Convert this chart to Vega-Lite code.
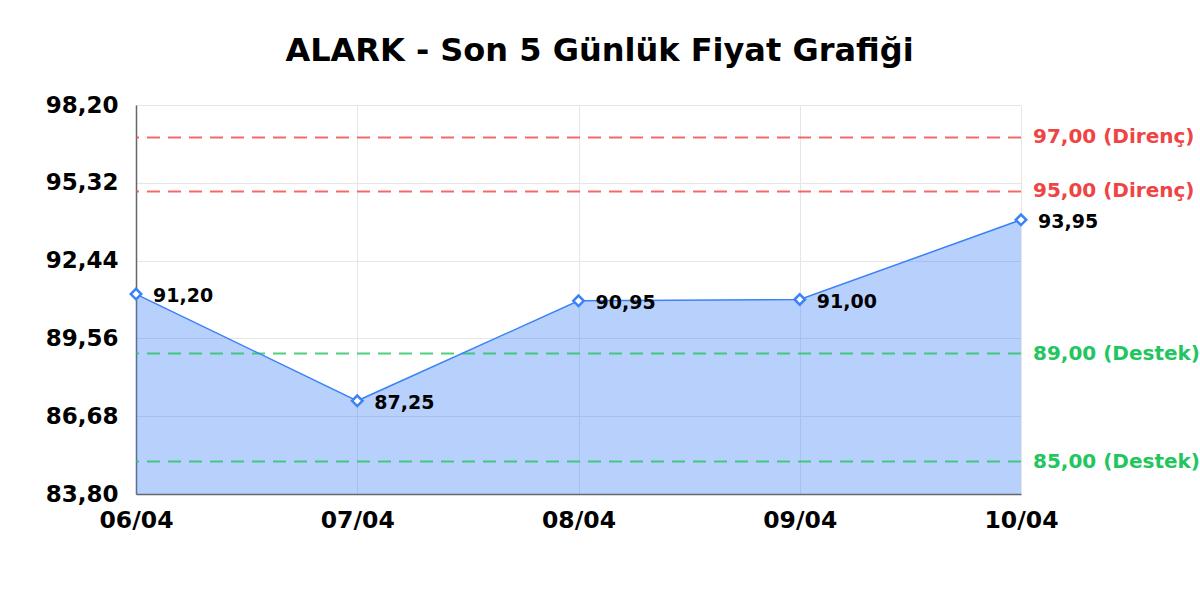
{
  "$schema": "https://vega.github.io/schema/vega-lite/v6.json",
  "autosize": "none",
  "width": 885,
  "height": 389,
  "padding": {"left": 136, "top": 105, "right": 179, "bottom": 106},
  "background": "white",
  "config": {
    "locale": {"number": {"decimal": ",", "thousands": ".", "grouping": [3], "currency": ["", " TL"]}},
    "font": "DejaVu Sans",
    "view": {"stroke": null}
  },
  "title": {
    "text": "ALARK - Son 5 Günlük Fiyat Grafiği",
    "fontSize": 32,
    "fontWeight": "bold",
    "font": "DejaVu Sans",
    "color": "black",
    "anchor": "middle",
    "dx": 21,
    "offset": 26
  },
  "datasets": {
    "prices": [
      {"date": "06/04", "close": 91.20},
      {"date": "07/04", "close": 87.25},
      {"date": "08/04", "close": 90.95},
      {"date": "09/04", "close": 91.00},
      {"date": "10/04", "close": 93.95}
    ],
    "levels": [
      {"level": 97.00, "kind": "Direnç", "label": "97,00 (Direnç)"},
      {"level": 95.00, "kind": "Direnç", "label": "95,00 (Direnç)"},
      {"level": 89.00, "kind": "Destek", "label": "89,00 (Destek)"},
      {"level": 85.00, "kind": "Destek", "label": "85,00 (Destek)"}
    ]
  },
  "layer": [
    {
      "data": {"name": "prices"},
      "mark": {"type": "area", "color": "#3b82f6", "opacity": 0.37},
      "encoding": {
        "x": {
          "field": "date",
          "type": "ordinal",
          "sort": null,
          "scale": {"type": "point", "padding": 0},
          "axis": {
            "title": null,
            "labelAngle": 0,
            "labelFontSize": 23.5,
            "labelFontWeight": "bold",
            "labelColor": "black",
            "labelPadding": 14,
            "ticks": false,
            "grid": true,
            "gridColor": "#e6e6e6",
            "domainColor": "#666666",
            "domainWidth": 1.5
          }
        },
        "y": {
          "field": "close",
          "type": "quantitative",
          "scale": {"domain": [83.8, 98.2], "nice": false, "zero": false},
          "axis": {
            "title": null,
            "values": [83.8, 86.68, 89.56, 92.44, 95.32, 98.2],
            "format": ".2f",
            "labelFontSize": 23,
            "labelFontWeight": "bold",
            "labelColor": "black",
            "labelPadding": 18,
            "ticks": false,
            "grid": true,
            "gridColor": "#e6e6e6",
            "domainColor": "#666666",
            "domainWidth": 1.5
          }
        },
        "y2": {"datum": 83.8}
      }
    },
    {
      "data": {"name": "levels"},
      "mark": {"type": "rule", "strokeDash": [13, 8], "strokeWidth": 2, "opacity": 0.8},
      "encoding": {
        "y": {"field": "level", "type": "quantitative"},
        "color": {
          "field": "kind",
          "type": "nominal",
          "scale": {"domain": ["Direnç", "Destek"], "range": ["#ef4444", "#22c55e"]},
          "legend": null
        }
      }
    },
    {
      "data": {"name": "levels"},
      "mark": {"type": "text", "align": "left", "baseline": "middle", "dx": 12, "fontSize": 20, "fontWeight": "bold"},
      "encoding": {
        "x": {"datum": "10/04"},
        "y": {"field": "level", "type": "quantitative"},
        "text": {"field": "label"},
        "color": {"field": "kind", "type": "nominal", "legend": null}
      }
    },
    {
      "data": {"name": "prices"},
      "mark": {"type": "line", "color": "#3b82f6", "strokeWidth": 1.5},
      "encoding": {
        "x": {"field": "date", "type": "ordinal", "sort": null},
        "y": {"field": "close", "type": "quantitative"}
      }
    },
    {
      "data": {"name": "prices"},
      "mark": {"type": "point", "shape": "diamond", "filled": true, "fill": "white", "stroke": "#3b82f6", "strokeWidth": 2.5, "size": 110, "opacity": 1},
      "encoding": {
        "x": {"field": "date", "type": "ordinal", "sort": null},
        "y": {"field": "close", "type": "quantitative"}
      }
    },
    {
      "data": {"name": "prices"},
      "mark": {"type": "text", "align": "left", "baseline": "middle", "dx": 17, "dy": 2, "fontSize": 19, "fontWeight": "bold", "color": "black"},
      "encoding": {
        "x": {"field": "date", "type": "ordinal", "sort": null},
        "y": {"field": "close", "type": "quantitative"},
        "text": {"field": "close", "type": "quantitative", "format": ".2f"}
      }
    }
  ]
}
